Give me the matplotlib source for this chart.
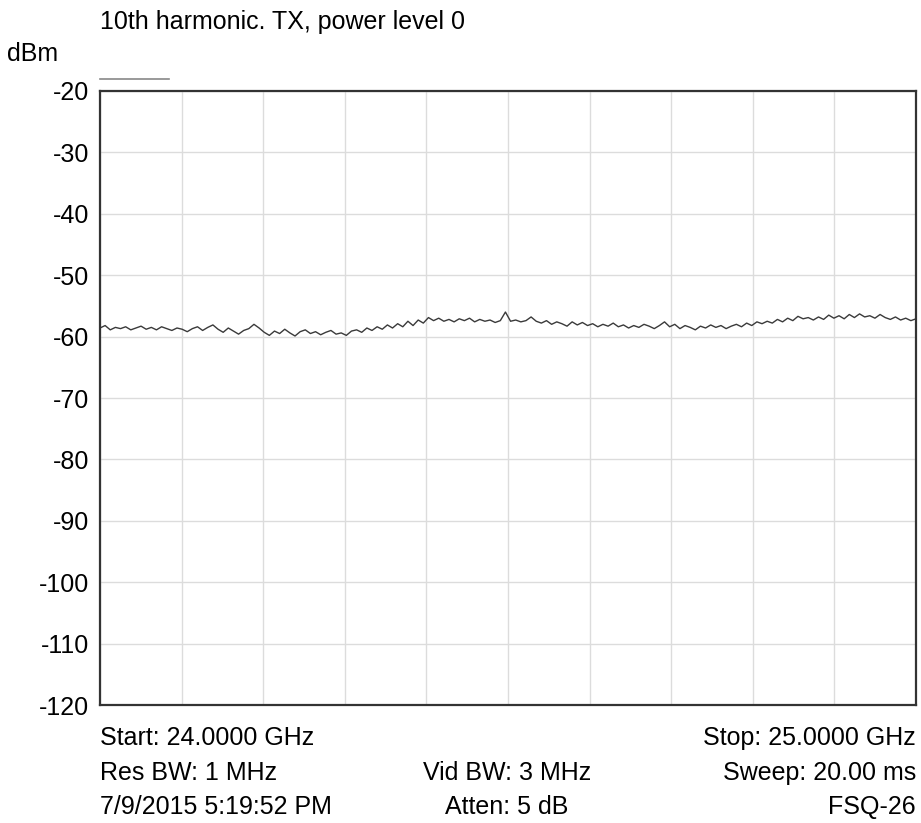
import numpy as np
import matplotlib.pyplot as plt

plt.rcParams['font.family'] = ['Liberation Sans', 'DejaVu Sans']

# sweep 24-25 GHz, trace level in dBm
f_start = 24.0
f_stop = 25.0
level_dbm = [
    -58.6, -58.2, -58.9, -58.5, -58.7, -58.4, -58.9, -58.6, -58.3, -58.8,
    -58.5, -58.9, -58.4, -58.7, -59.0, -58.6, -58.8, -59.2, -58.7, -58.4,
    -59.0, -58.5, -58.1, -58.8, -59.3, -58.6, -59.1, -59.6, -59.0, -58.7,
    -58.0, -58.6, -59.3, -59.8, -59.1, -59.5, -58.8, -59.4, -59.9, -59.2,
    -58.9, -59.5, -59.2, -59.7, -59.3, -59.0, -59.6, -59.4, -59.8, -59.1,
    -58.9, -59.3, -58.6, -59.0, -58.4, -58.8, -58.1, -58.6, -57.9, -58.4,
    -57.5, -58.2, -57.3, -57.8, -56.9, -57.4, -57.0, -57.5, -57.2, -57.6,
    -57.1, -57.4, -57.0, -57.6, -57.2, -57.5, -57.3, -57.7, -57.4, -56.0,
    -57.5, -57.3, -57.6, -57.4, -56.8, -57.5, -57.8, -57.4, -58.0, -57.6,
    -57.9, -58.3, -57.6, -58.1, -57.7, -58.2, -57.9, -58.4, -58.0, -58.3,
    -57.8, -58.4, -58.1, -58.6, -58.2, -58.5, -58.0, -58.3, -58.7, -58.2,
    -57.6, -58.4, -58.0, -58.7, -58.2, -58.5, -58.9, -58.3, -58.6, -58.1,
    -58.5, -58.2, -58.7, -58.3, -58.0, -58.4, -57.8, -58.2, -57.6, -57.9,
    -57.5, -57.8, -57.2, -57.6, -57.0, -57.4, -56.7, -57.1, -56.9, -57.3,
    -56.8, -57.2, -56.5, -57.0, -56.6, -57.1, -56.4, -56.9, -56.3, -56.8,
    -56.6, -57.0, -56.4, -56.9, -57.2, -56.8, -57.3, -57.0, -57.4, -57.1,
]
freq_ghz = np.linspace(f_start, f_stop, len(level_dbm))

y_ticks = [-20, -30, -40, -50, -60, -70, -80, -90, -100, -110, -120]

FS = 18

fig = plt.figure(figsize=(9.21, 8.23), dpi=100)
ax = fig.add_axes([100 / 921, 1 - 705 / 823, 816 / 921, 614 / 823])

ax.plot(freq_ghz, level_dbm, color='#3a3a3a', lw=1.0)

ax.set_xlim(f_start, f_stop)
ax.set_ylim(-120, -20)
ax.set_xticks(np.linspace(f_start, f_stop, 11))
ax.set_xticklabels([])
ax.set_yticks(y_ticks)
ax.set_yticklabels([str(t) for t in y_ticks], fontsize=FS)
ax.tick_params(length=0, pad=8)
ax.grid(True, color='#dcdcdc', lw=1.0)
for s in ax.spines.values():
    s.set_color('#333333')
    s.set_linewidth(1.6)

# short trace marker line above the frame
ax.plot([0.0, 0.085], [1.02, 1.02], transform=ax.transAxes, color='#888888',
        lw=1.2, clip_on=False)

fig.text(100 / 921, 1 - 22 / 823, "10th harmonic. TX, power level 0",
         fontsize=FS, va='center', ha='left')
fig.text(7 / 921, 1 - 54 / 823, "dBm", fontsize=FS, va='center', ha='left')

rows = [
    ("Start: 24.0000 GHz", "", "Stop: 25.0000 GHz", 738),
    ("Res BW: 1 MHz", "Vid BW: 3 MHz", "Sweep: 20.00 ms", 773),
    ("7/9/2015 5:19:52 PM", "Atten: 5 dB", "FSQ-26", 807),
]
for left, mid, right, ypx in rows:
    y = 1 - ypx / 823
    fig.text(100 / 921, y, left, fontsize=FS, va='center', ha='left')
    fig.text(507 / 921, y, mid, fontsize=FS, va='center', ha='center')
    fig.text(916 / 921, y, right, fontsize=FS, va='center', ha='right')

fig.savefig('out.png', dpi=100)
